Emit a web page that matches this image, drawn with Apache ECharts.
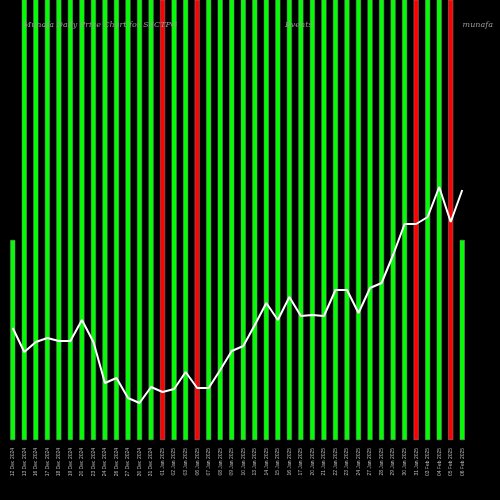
<!DOCTYPE html>
<html><head><meta charset="utf-8">
<script src="https://cdn.jsdelivr.net/npm/echarts@6/dist/echarts.min.js"></script>
<style>html,body{margin:0;background:#000}#c{width:500px;height:500px}</style>
</head><body><div id="c"></div>
<script>
const dates = ['12 Dec 2024','13 Dec 2024','16 Dec 2024','17 Dec 2024','18 Dec 2024','19 Dec 2024','20 Dec 2024','23 Dec 2024','24 Dec 2024','26 Dec 2024','27 Dec 2024','30 Dec 2024','31 Dec 2024','01 Jan 2025','02 Jan 2025','03 Jan 2025','06 Jan 2025','07 Jan 2025','08 Jan 2025','09 Jan 2025','10 Jan 2025','13 Jan 2025','14 Jan 2025','15 Jan 2025','16 Jan 2025','17 Jan 2025','20 Jan 2025','21 Jan 2025','22 Jan 2025','23 Jan 2025','24 Jan 2025','27 Jan 2025','28 Jan 2025','29 Jan 2025','30 Jan 2025','31 Jan 2025','03 Feb 2025','04 Feb 2025','05 Feb 2025','06 Feb 2025'];
const volume = [200,460,460,460,460,460,460,460,460,460,460,460,460,460,460,460,460,460,460,460,460,460,460,460,460,460,460,460,460,460,460,460,460,460,460,460,460,460,460,200];
const redIdx = [13,16,35,38];
const price = [112,88,98,102,99,99,120,98,57,62,42,37,53,48,51,68,52,52,70,89,94,115,137,120,143,124,125,124,150,150,127,152,157,185,216,216,223,253,218,250];

const chart = echarts.init(document.getElementById('c'));
chart.setOption({
  backgroundColor: '#000',
  animation: false,
  title: [
    { text: 'Munafa Daily Price Chart for SSCTPG', left: 18, top: 16, textStyle: { color: '#999', fontSize: 8, fontStyle: 'italic', fontWeight: 'normal', fontFamily: 'DejaVu Serif' } },
    { text: 'Events', left: 280, top: 16, textStyle: { color: '#999', fontSize: 8, fontStyle: 'italic', fontWeight: 'normal', fontFamily: 'DejaVu Serif' } },
    { text: 'munafa', right: 2, top: 16, textStyle: { color: '#999', fontSize: 8, fontStyle: 'italic', fontWeight: 'normal', fontFamily: 'DejaVu Serif' } }
  ],
  grid: { left: 7, right: 32, top: 0, bottom: 60 },
  xAxis: {
    type: 'category', data: dates,
    axisLine: { show: false }, axisTick: { show: false },
    axisLabel: { rotate: 90, color: '#bbb', fontSize: 5, interval: 0, margin: 8 }
  },
  yAxis: [
    { type: 'value', min: 0, max: 440, show: false },
    { type: 'value', min: 0, max: 440, show: false }
  ],
  series: [
    {
      type: 'bar', barWidth: 5, z: 1,
      data: volume.map((v, i) => ({ value: v, itemStyle: { color: redIdx.includes(i) ? '#ff0000' : '#00ff00', borderColor: '#888', borderWidth: 0.5 } }))
    },
    {
      type: 'line', yAxisIndex: 1, data: price, symbol: 'none', z: 3,
      lineStyle: { color: '#fff', width: 2 }
    }
  ]
});
</script></body></html>
